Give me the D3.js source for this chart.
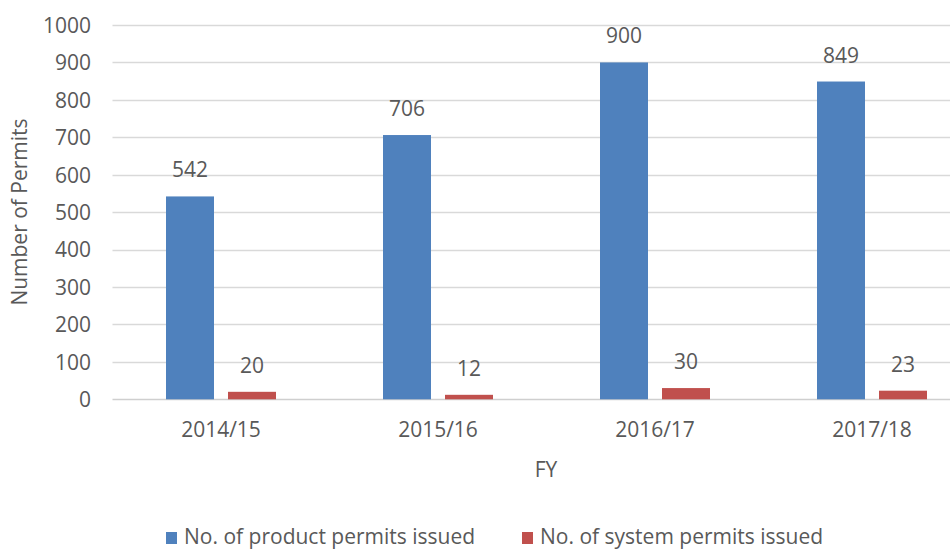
<!DOCTYPE html>
<html><head><meta charset="utf-8">
<script src="https://cdn.jsdelivr.net/npm/d3@7"></script>
<style>body{margin:0;background:#fff}svg{display:block}text{font-family:"Open Sans",sans-serif;fill:#595959}</style>
</head><body><svg id="c" width="950" height="550"></svg>
<script>
const categories = ["2014/15","2015/16","2016/17","2017/18"];
const seriesNames = ["No. of product permits issued","No. of system permits issued"];
const productPermits = [542,706,900,849];
const systemPermits = [20,12,30,23];
const yTicks = [0,100,200,300,400,500,600,700,800,900,1000];
const colors = ["#4F81BD","#C0504D"];

const FS = 21;
const svg = d3.select("#c");
const x0 = d3.scaleBand().domain(categories).range([112.5,980.5]).paddingInner(0).paddingOuter(0);
const y = d3.scaleLinear().domain([0,1000]).range([399.3,25]);
const x1 = d3.scaleBand().domain([0,1]).range([53.5,163.5]).paddingInner(14/62);

// gridlines
svg.append("g").selectAll("line").data(yTicks).join("line")
  .attr("x1",112.5).attr("x2",980).attr("y1",d=>Math.round(y(d))+0.5).attr("y2",d=>Math.round(y(d))+0.5)
  .attr("stroke",d=>d===0?"#CFCFCF":"#D9D9D9").attr("stroke-width",1.5);

// y tick labels
const yAxis = d3.axisLeft(y).tickValues(yTicks).tickFormat(d3.format("d")).tickSize(0).tickPadding(0);
const ya = svg.append("g").attr("transform","translate(91,0)").call(yAxis);
ya.select(".domain").remove();
ya.selectAll("text").attr("font-size",FS).attr("fill","#595959").attr("font-family","Open Sans").attr("dy","0.35em");

// bars
const data = [productPermits, systemPermits];
const g = svg.append("g");
data.forEach((vals,si)=>{
  g.selectAll(".b"+si).data(vals).join("rect")
    .attr("x",(d,i)=>x0(categories[i])+x1(si))
    .attr("width",x1.bandwidth())
    .attr("y",d=>y(d)).attr("height",d=>y(0)-y(d))
    .attr("fill",colors[si]);
  g.selectAll(".l"+si).data(vals).join("text")
    .attr("x",(d,i)=>x0(categories[i])+x1(si)+x1.bandwidth()/2)
    .attr("y",d=>y(d)-19)
    .attr("text-anchor","middle").attr("font-size",FS).text(d=>d);
});

// x axis labels
const xAxis = d3.axisBottom(x0).tickSize(0).tickPadding(0);
const xa = svg.append("g").attr("transform","translate(0,437)").call(xAxis);
xa.select(".domain").remove();
xa.selectAll("text").attr("font-size",FS).attr("fill","#595959").attr("font-family","Open Sans").attr("dy",0);

// axis titles
svg.append("text").attr("x",546).attr("y",477).attr("text-anchor","middle").attr("font-size",FS).text("FY");
svg.append("text").attr("transform","translate(27,212) rotate(-90)").attr("text-anchor","middle").attr("font-size",FS).text("Number of Permits");

// legend
const legX = [166,522];
const leg = svg.append("g");
seriesNames.forEach((n,i)=>{
  leg.append("rect").attr("x",legX[i]).attr("y",532).attr("width",11).attr("height",12).attr("fill",colors[i]);
  leg.append("text").attr("x",legX[i]+18).attr("y",543.5).attr("font-size",FS).text(n);
});
</script></body></html>
